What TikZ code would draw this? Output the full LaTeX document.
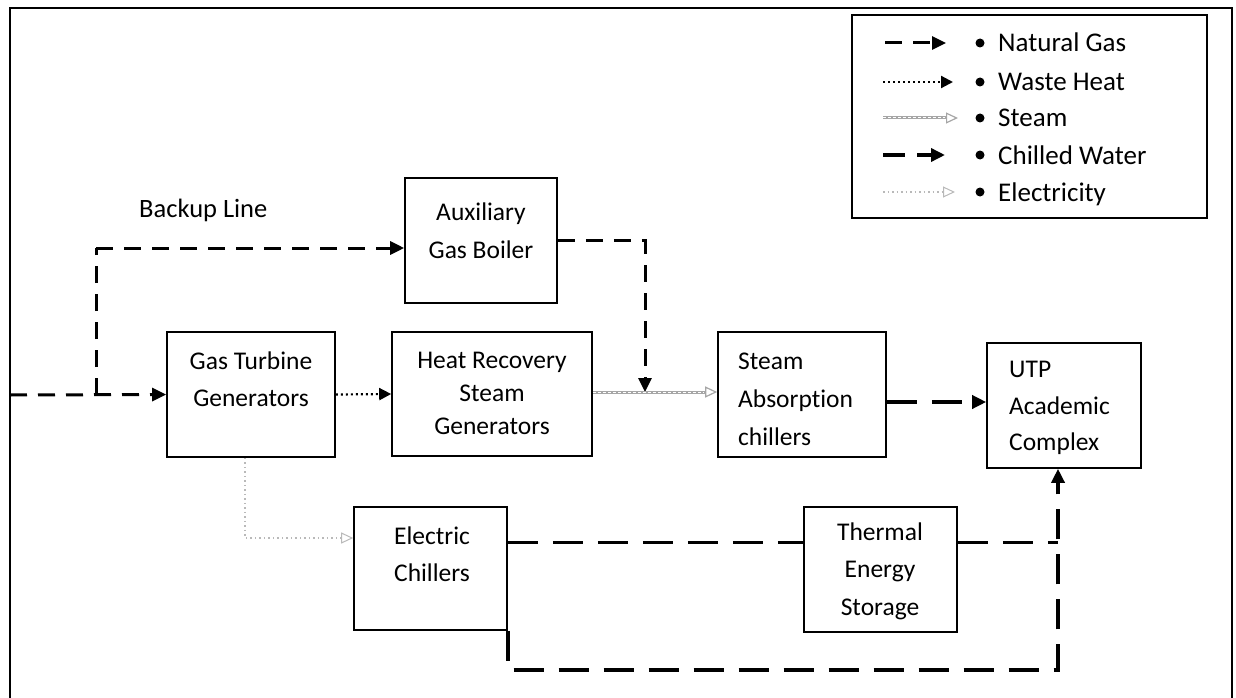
\documentclass[tikz,border=0pt]{standalone}
\usepackage{fontspec}
\setmainfont[Ligatures=NoCommon]{Carlito}
\usetikzlibrary{arrows.meta,calc}
\begin{document}
\begin{tikzpicture}[x=1pt,y=-1pt,
  box/.style={draw=black, line width=1.6pt, inner sep=0pt},
  ng/.style={line width=3pt, dash pattern=on 17pt off 11pt, -{Triangle[length=14pt,width=13pt]}},
  ngplain/.style={line width=3pt, dash pattern=on 17pt off 11pt},
  cw/.style={line width=3.4pt, dash pattern=on 30pt off 15pt},
  cwarrow/.style={cw, -{Triangle[length=14pt,width=13pt]}},
  wh/.style={line width=2.2pt, dash pattern=on 2pt off 3pt, -{Triangle[length=12pt,width=12pt]}},
  steambase/.style={draw=gray!70, line width=3pt, -{Triangle[open,length=12pt,width=11pt,line width=1.2pt]}},
  steamtex/.style={draw=white, line width=1pt, dash pattern=on 3pt off 2pt},
  elec/.style={draw=gray!55, line width=1.3pt, dash pattern=on 1.5pt off 3pt, -{Triangle[open,length=12pt,width=11pt,line width=1pt]}},
  lbl/.style={inner sep=0pt, align=center},
  leg/.style={inner sep=0pt, anchor=base west, font=\fontsize{27}{32}\selectfont},
  dot/.style={circle, fill=black, inner sep=0pt, minimum size=9pt}
]
\useasboundingbox (0,0) rectangle (1236,698);

% outer frame
\draw[line width=2pt] (10,698) -- (10,8) -- (1232,8) -- (1232,698);

% legend
\node[draw=black, line width=2pt, minimum width=355pt, minimum height=203pt, inner sep=0pt] (legend) at (1029.5,116.5) {};
\coordinate (l1a) at (885,43);  \coordinate (l1b) at (946,43);
\coordinate (l2a) at (883,82);  \coordinate (l2b) at (953,82);
\coordinate (l3a) at (883,118); \coordinate (l3b) at (958,118);
\coordinate (l4a) at (883,155); \coordinate (l4b) at (945,155);
\coordinate (l5a) at (883,192); \coordinate (l5b) at (955,192);
\draw[ng] (l1a) -- (l1b);
\draw[wh] (l2a) -- (l2b);
\draw[steambase] (l3a) -- (l3b);
\draw[steamtex] (l3a) -- ($(l3b)+(-13,0)$);
\draw[cw, dash pattern=on 22pt off 12pt, -{Triangle[length=14pt,width=13pt]}] (l4a) -- (l4b);
\draw[elec] (l5a) -- (l5b);
\node[dot] (b1) at (980,43) {};
\node[dot] (b2) at (980,82) {};
\node[dot] (b3) at (980,118) {};
\node[dot] (b4) at (980,155) {};
\node[dot] (b5) at (980,192) {};
\node[leg] (t1) at (998,52) {Natural Gas};
\node[leg] (t2) at (998,91) {Waste Heat};
\node[leg] (t3) at (998,127) {Steam};
\node[leg] (t4) at (998,164) {Chilled Water};
\node[leg] (t5) at (998,201) {Electricity};

% boxes
\node[box, minimum width=152pt, minimum height=125pt] (aux)  at (481,240.5) {};
\node[box, minimum width=168pt, minimum height=125pt] (gt)   at (251,394.5) {};
\node[box, minimum width=200pt, minimum height=124pt] (hrsg) at (492,394) {};
\node[box, minimum width=168pt, minimum height=125pt] (sac)  at (802,394.5) {};
\node[box, minimum width=154pt, minimum height=125pt] (utp)  at (1064,405.5) {};
\node[box, minimum width=153pt, minimum height=123pt] (ec)   at (430.5,568.5) {};
\node[box, minimum width=153pt, minimum height=125pt] (tes)  at (880.5,569.5) {};

% texts
\node[lbl, font=\fontsize{26.5}{32}\selectfont, anchor=west] (backup) at (139,210) {Backup Line};
\node[lbl, font=\fontsize{25.5}{38}\selectfont] (auxt) at (481,231) {Auxiliary\\Gas Boiler};
\node[lbl, font=\fontsize{25.5}{37}\selectfont] (gtt) at (251,379) {Gas Turbine\\Generators};
\node[lbl, font=\fontsize{25.5}{33}\selectfont] (hrsgt) at (492,393) {Heat Recovery\\Steam\\Generators};
\node[lbl, font=\fontsize{25.5}{38}\selectfont, align=left, anchor=west] (sact) at (738,399) {Steam\\Absorption\\chillers};
\node[lbl, font=\fontsize{25.5}{36.5}\selectfont, align=left, anchor=west] (utpt) at (1009,408) {UTP\\Academic\\Complex};
\node[lbl, font=\fontsize{25.5}{37}\selectfont] (ect) at (432,554) {Electric\\Chillers};
\node[lbl, font=\fontsize{25.5}{37.5}\selectfont] (test) at (880,571) {Thermal\\Energy\\Storage};

% natural gas
\coordinate (in) at (10,395);
\coordinate (j1) at (96,395);
\coordinate (bk) at (96,248);
\draw[ng] (in) -- (gt.west);
\draw[ngplain] (j1) -- (bk);
\draw[ng] (bk) -- (bk -| aux.west);
\coordinate (mix) at (645,392);
\draw[ng] (aux.east) -| (mix);

% waste heat
\draw[wh] (gt.east) -- (hrsg.west);

% steam
\coordinate (s1) at ([yshift=2pt]hrsg.east);
\draw[steambase] (s1) -- (s1 -| sac.west);
\draw[steamtex] (s1) -- ($(s1 -| sac.west)+(-13,0)$);

% chilled water
\coordinate (c1) at ([yshift=-7.5pt]sac.east);
\draw[cwarrow] (c1) -- (c1 -| utp.west);
\coordinate (c4) at (1058,670);
\coordinate (c2) at ([yshift=26pt]ec.east);
\coordinate (c3) at (c2 -| c4);
\draw[cw] (c2) -- (c2 -| tes.west);
\draw[cw] (c2 -| tes.east) -- (c3);
\draw[cwarrow] (ec.south east) -- (ec.south east |- c4) -- (c4) -- (c4 |- utp.south);

% electricity
\coordinate (eg) at ([xshift=-6pt]gt.south);
\draw[elec] (eg) |- ([yshift=30.5pt]ec.west);
\end{tikzpicture}
\end{document}
